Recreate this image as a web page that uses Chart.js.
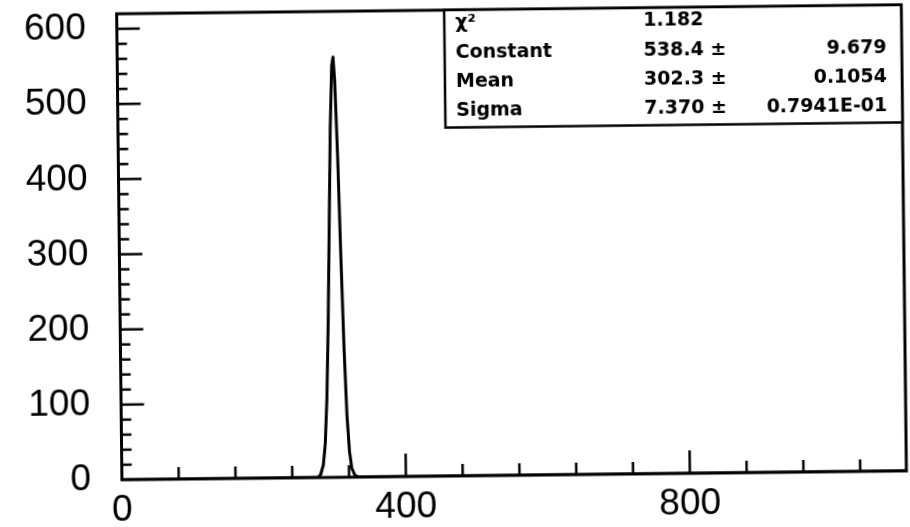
<!DOCTYPE html>
<html>
<head>
<meta charset="utf-8">
<script src="https://cdn.jsdelivr.net/npm/chart.js@4/dist/chart.umd.min.js"></script>
<style>
  html, body { margin: 0; padding: 0; background: #fff; }
  #wrap { width: 910px; height: 527px; transform: rotate(-0.65deg); transform-origin: 455px 263px; }
  canvas { display: block; }
</style>
</head>
<body>
<div id="wrap"><canvas id="c" width="910" height="527"></canvas></div>
<script>
// Histogram channel positions and counts
const binX   = [0, 276, 280, 284, 287, 290, 293, 296, 299, 302, 304, 306, 309, 312, 315, 318, 321, 324, 328, 333, 1105];
const counts = [0,   0,   4,  17,  45, 105, 205, 335, 465, 548, 559, 528, 425, 290, 170,  82,  34,  12,   3,   0,    0];

// Axis labels
const xTickLabels = [0, 400, 800];
const yTickLabels = [0, 100, 200, 300, 400, 500, 600];

// Gaussian fit summary
const fitNames  = ['\u03C7\u00B2', 'Constant', 'Mean', 'Sigma'];
const fitValues = ['1.182', '538.4 \u00B1', '302.3 \u00B1', '7.370 \u00B1'];
const fitErrors = ['', '9.679', '0.1054', '0.7941E-01'];

const X_MAX = 1105, Y_MAX = 620;
const X_MINOR = 80, Y_MINOR = 20;

const framePlugin = {
  id: 'frame',
  afterDatasetsDraw(chart) {
    const ctx = chart.ctx, a = chart.chartArea;
    const xs = chart.scales.x, ys = chart.scales.y;
    ctx.save();
    ctx.strokeStyle = '#000';
    ctx.lineCap = 'butt';

    // ticks on the left axis (pointing inward)
    ctx.lineWidth = 2.5;
    for (let v = Y_MINOR; v < Y_MAX; v += Y_MINOR) {
      const y = ys.getPixelForValue(v);
      const len = (v % 100 === 0) ? 23 : 10;
      ctx.beginPath(); ctx.moveTo(a.left, y); ctx.lineTo(a.left + len, y); ctx.stroke();
    }
    // ticks on the bottom axis
    for (let v = X_MINOR; v < X_MAX; v += X_MINOR) {
      const x = xs.getPixelForValue(v);
      const len = (v % 400 === 0) ? 23 : 12;
      ctx.beginPath(); ctx.moveTo(x, a.bottom); ctx.lineTo(x, a.bottom - len); ctx.stroke();
    }

    // plot frame
    ctx.lineWidth = 3;
    ctx.strokeRect(a.left, a.top, a.right - a.left, a.bottom - a.top);

    // fit statistics box
    const bx = 447, by = a.top, bw = a.right - bx, bh = 117.5;
    ctx.fillStyle = '#fff';
    ctx.fillRect(bx, by, bw, bh);
    ctx.lineWidth = 2.5;
    ctx.strokeRect(bx, by, bw, bh);

    ctx.fillStyle = '#000';
    ctx.font = 'bold 19px "DejaVu Sans", sans-serif';
    ctx.textBaseline = 'middle';
    const rowY = [23, 53, 82, 111];
    for (let i = 0; i < fitNames.length; i++) {
      ctx.textAlign = 'left';
      ctx.fillText(fitNames[i], 458, by - 10 + rowY[i]);
      ctx.fillText(fitValues[i], 646, by - 10 + rowY[i]);
      ctx.textAlign = 'right';
      ctx.fillText(fitErrors[i], 889, by - 10 + rowY[i]);
    }
    ctx.restore();
  }
};

new Chart(document.getElementById('c'), {
  type: 'line',
  data: {
    datasets: [{
      data: binX.map((x, i) => ({ x: x, y: counts[i] })),
      borderColor: '#000',
      borderWidth: 3,
      borderJoinStyle: 'round',
      pointRadius: 0,
      tension: 0,
      fill: false
    }]
  },
  options: {
    responsive: false,
    animation: false,
    devicePixelRatio: 1,
    layout: { padding: { top: 10, right: 6, left: 0, bottom: 0 } },
    plugins: { legend: { display: false }, tooltip: { enabled: false } },
    scales: {
      x: {
        type: 'linear', min: 0, max: X_MAX,
        afterFit: s => { s.height = 51; s.paddingLeft = 0; s.paddingRight = 0; },
        afterBuildTicks: s => { s.ticks = xTickLabels.map(v => ({ value: v })); },
        grid: { display: false, drawTicks: false },
        border: { display: false },
        ticks: { color: '#000', padding: 9, maxRotation: 0, autoSkip: false,
                 font: { family: '"Liberation Sans", sans-serif', size: 37 } }
      },
      y: {
        type: 'linear', min: 0, max: Y_MAX,
        afterFit: s => { s.width = 119.5; s.paddingTop = 0; s.paddingBottom = 0; },
        afterBuildTicks: s => { s.ticks = yTickLabels.map(v => ({ value: v })); },
        grid: { display: false, drawTicks: false },
        border: { display: false },
        ticks: { color: '#000', padding: 31, autoSkip: false,
                 font: { family: '"Liberation Sans", sans-serif', size: 37 } }
      }
    }
  },
  plugins: [framePlugin]
});
</script>
</body>
</html>
